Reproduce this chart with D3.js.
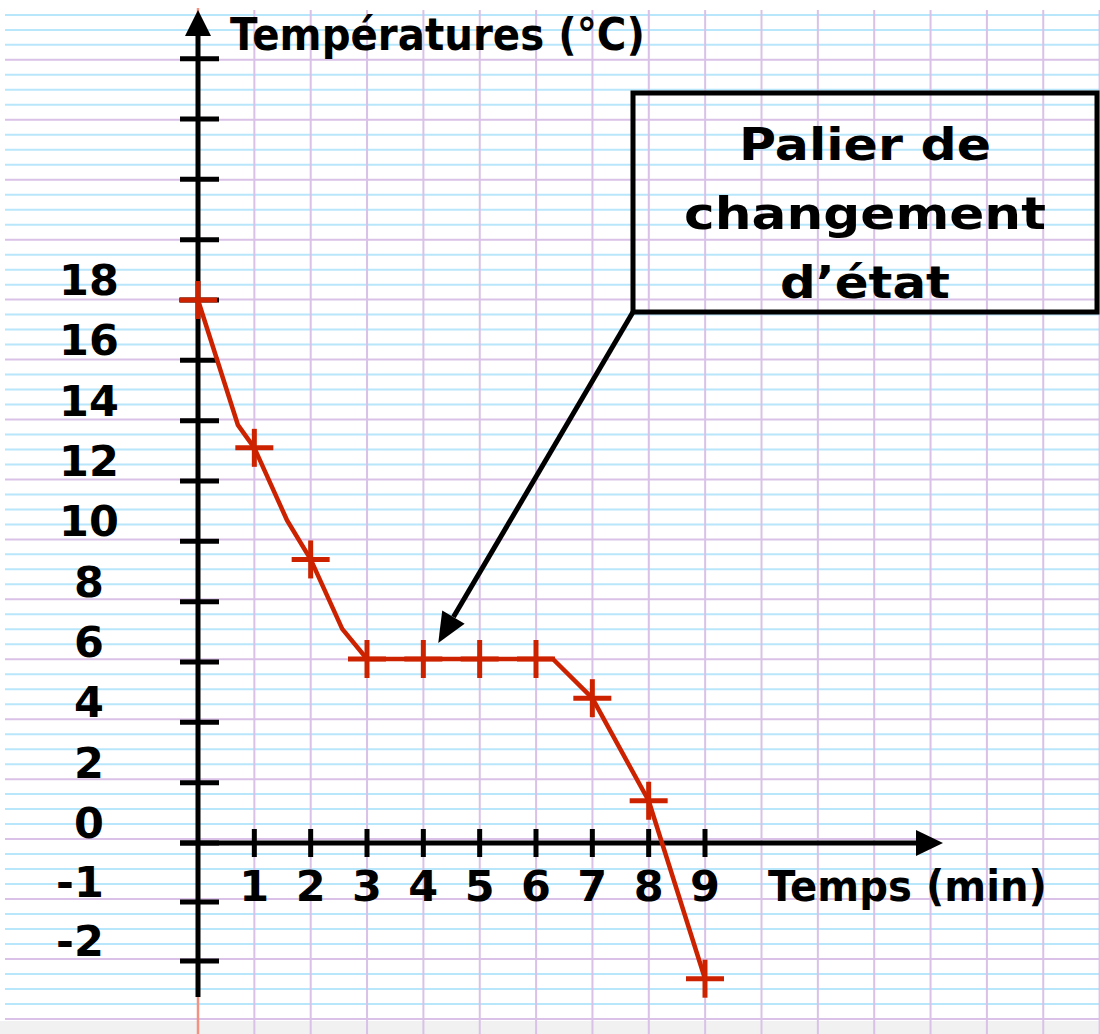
<!DOCTYPE html>
<html>
<head>
<meta charset="utf-8">
<script src="https://cdn.jsdelivr.net/npm/d3@7"></script>
<style>
  html, body { margin: 0; padding: 0; background: #ffffff; }
  svg { display: block; }
  text { font-family: "DejaVu Sans", "Liberation Sans", sans-serif; font-weight: bold; fill: #000; }
</style>
</head>
<body>
<svg id="chart" width="1100" height="1034"></svg>
<script>
// ---- data ----
const times = [0, 1, 2, 3, 4, 5, 6, 7, 8, 9];
const temps = [18, 13.1, 9.4, 6.1, 6.1, 6.1, 6.1, 4.8, 1.4, -2.3];
// vertices of the hand-drawn red curve
const curveTimes = [0, 0.71, 1, 1.58, 2, 2.56, 3, 6.3, 7, 8, 9];
const curveTemps = [18, 13.85, 13.1, 10.7, 9.4, 7.1, 6.1, 6.1, 4.8, 1.4, -2.3];
const xTickValues = [1, 2, 3, 4, 5, 6, 7, 8, 9];
const yTickMarks = [26, 24, 22, 20, 18, 16, 14, 12, 10, 8, 6, 4, 2, 0, -1, -2];
const yTickLabels = [18, 16, 14, 12, 10, 8, 6, 4, 2, 0, -1, -2];
const yTitle = "Températures (°C)";
const xTitle = "Temps (min)";
const noteLines = ["Palier de", "changement", "d’état"];
const notePoint = [4.3, 6.5];

// ---- scales ----
const svg = d3.select("#chart");
const W = 1100, H = 1034;
const x = d3.scaleLinear().domain([0, 9]).range([198, 705]);
// the drawing uses 2 °C per square above zero and 1 °C per square below
const y = d3.scaleLinear().domain([-2, 0, 18]).range([961, 843, 300]);

// ---- graph-paper background ----
const bg = svg.append("g");
bg.append("rect").attr("x", 0).attr("y", 1021).attr("width", W).attr("height", H - 1021).attr("fill", "#f1f1f1");
const step = 59.94 / 4;
d3.range(0, 68).forEach(i => {
  const yy = 14.9 + i * step;
  if (yy > 1021) return;
  const purple = (i % 4) === 3;
  bg.append("line").attr("x1", 5).attr("x2", W).attr("y1", yy).attr("y2", yy)
    .attr("stroke", purple ? "#d9c1e7" : "#b8e6fa").attr("stroke-width", 2);
});
d3.range(1, 17).forEach(k => {
  const xx = 198 + k * 56.35;
  bg.append("line").attr("x1", xx).attr("x2", xx).attr("y1", 10).attr("y2", H)
    .attr("stroke", "#d9c1e7").attr("stroke-width", 2);
});
// red margin line
bg.append("line").attr("x1", 198).attr("x2", 198).attr("y1", 8).attr("y2", H)
  .attr("stroke", "#f39282").attr("stroke-width", 2.5);

// ---- axes ----
const ax = svg.append("g").attr("stroke", "#000").attr("stroke-width", 5);
ax.append("line").attr("x1", x(0)).attr("x2", x(0)).attr("y1", 997).attr("y2", 30);
ax.append("line").attr("x1", 180).attr("x2", 922).attr("y1", y(0)).attr("y2", y(0));
svg.append("path").attr("d", `M${x(0)},10 L${x(0) - 13},36 L${x(0) + 13},36 Z`).attr("fill", "#000");
svg.append("path").attr("d", `M943,${y(0)} L916,${y(0) - 13} L916,${y(0) + 13} Z`).attr("fill", "#000");

ax.selectAll(".yt").data(yTickMarks).join("line")
  .attr("x1", 180).attr("x2", 219)
  .attr("y1", d => y(d)).attr("y2", d => y(d));
ax.selectAll(".xt").data(xTickValues).join("line")
  .attr("x1", d => x(d)).attr("x2", d => x(d))
  .attr("y1", y(0) - 14).attr("y2", y(0) + 14);

// stretched text helper: centred text, baseline, target width
function stretchText(str, cx, base, size, width) {
  const g = svg.append("g");
  const t = g.append("text").attr("x", 0).attr("y", 0).attr("font-size", size)
    .attr("text-anchor", "middle").text(str);
  const nat = t.node().getComputedTextLength();
  const sx = width / nat;
  g.attr("transform", `translate(${cx},${base}) scale(${sx},1)`);
  return g;
}

// tick labels
svg.selectAll(".yl").data(yTickLabels).join("text")
  .attr("x", d => d < 0 ? 80 : 89)
  .attr("y", d => y(d) - 5)
  .attr("text-anchor", "middle")
  .attr("font-size", 43)
  .text(d => d);
svg.selectAll(".xl").data(xTickValues).join("text")
  .attr("x", d => x(d))
  .attr("y", 901)
  .attr("text-anchor", "middle")
  .attr("font-size", 43)
  .text(d => d);

// axis titles
stretchText(yTitle, (230 + 645) / 2, 50, 45, 415);
stretchText(xTitle, (768 + 1047) / 2, 901, 42, 279);

// ---- data curve ----
const red = "#cc2200";
const curve = curveTimes.map((t, i) => [t, curveTemps[i]]);
svg.append("path")
  .attr("d", d3.line().x(d => x(d[0])).y(d => y(d[1]))(curve))
  .attr("fill", "none").attr("stroke", red).attr("stroke-width", 4.5)
  .attr("stroke-linejoin", "round");
const pts = times.map((t, i) => [t, temps[i]]);
const marks = svg.append("g").attr("stroke", red).attr("stroke-width", 5);
marks.selectAll(".h").data(pts).join("line")
  .attr("x1", d => x(d[0]) - 19).attr("x2", d => x(d[0]) + 19)
  .attr("y1", d => y(d[1])).attr("y2", d => y(d[1]));
marks.selectAll(".v").data(pts).join("line")
  .attr("x1", d => x(d[0])).attr("x2", d => x(d[0]))
  .attr("y1", d => y(d[1]) - 19).attr("y2", d => y(d[1]) + 19);

// ---- annotation box + arrow ----
const box = { x: 633, y: 93, w: 464, h: 219 };
svg.append("rect").attr("x", box.x).attr("y", box.y).attr("width", box.w).attr("height", box.h)
  .attr("fill", "none").attr("stroke", "#000").attr("stroke-width", 5);
const noteWidths = [252, 362, 170];
const noteBase = [160, 229, 298];
noteLines.forEach((s, i) => stretchText(s, 865, noteBase[i], 45, noteWidths[i]));

const tip = [x(notePoint[0]) - 2, y(notePoint[1]) - 4];
const start = [box.x, box.y + box.h];
const ang = Math.atan2(tip[1] - start[1], tip[0] - start[0]);
const hl = 30, hw = 13;
const bx = tip[0] - hl * Math.cos(ang), by = tip[1] - hl * Math.sin(ang);
svg.append("line").attr("x1", start[0]).attr("y1", start[1]).attr("x2", bx).attr("y2", by)
  .attr("stroke", "#000").attr("stroke-width", 5);
svg.append("path").attr("d",
  `M${tip[0]},${tip[1]} L${bx + hw * Math.sin(ang)},${by - hw * Math.cos(ang)} L${bx - hw * Math.sin(ang)},${by + hw * Math.cos(ang)} Z`)
  .attr("fill", "#000");
</script>
</body>
</html>
